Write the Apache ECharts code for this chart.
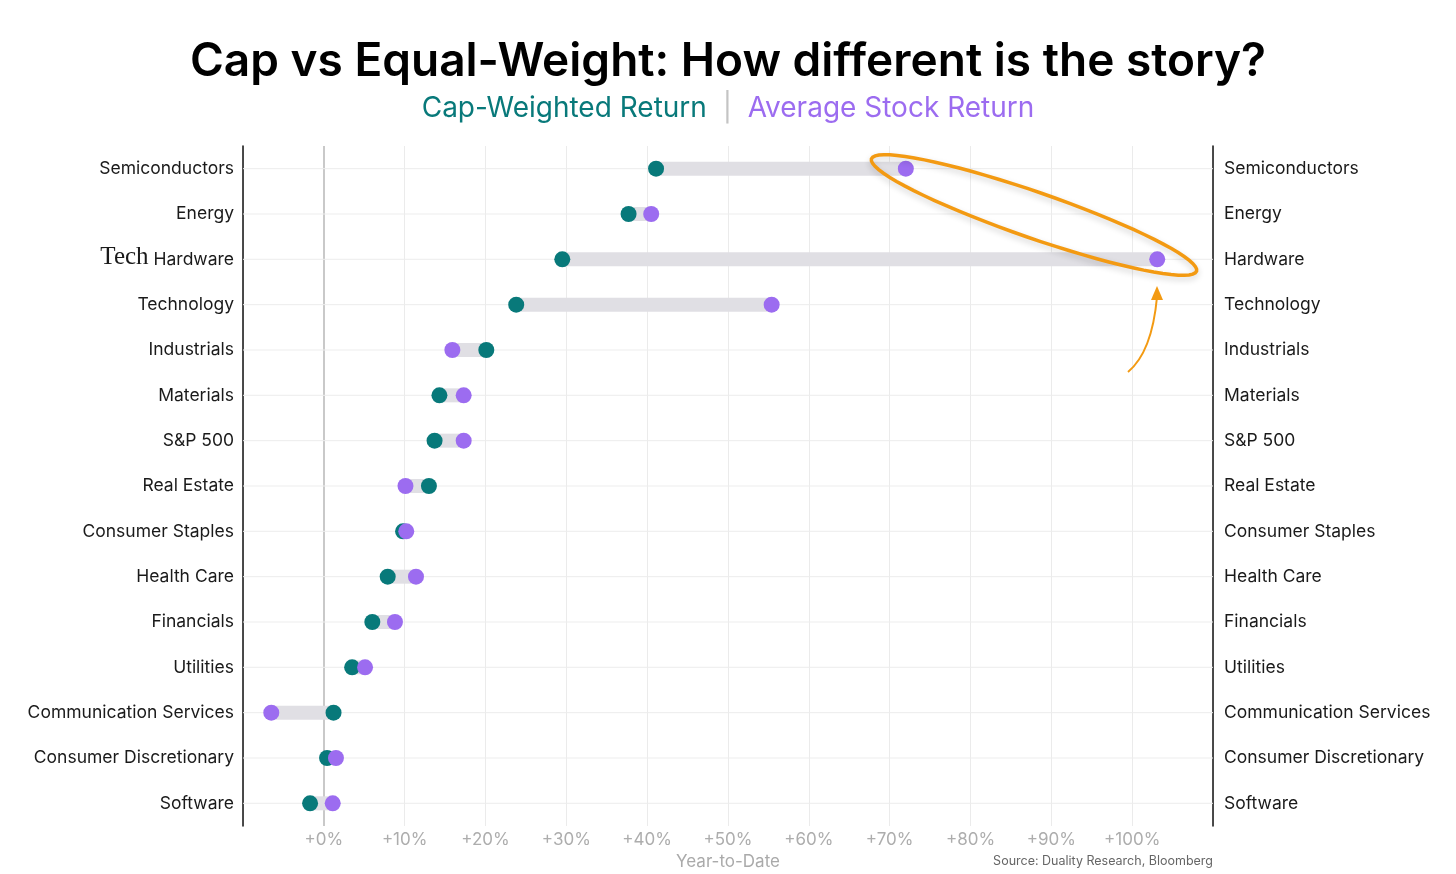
<!DOCTYPE html>
<html>
<head>
<meta charset="utf-8">
<script src="https://cdn.jsdelivr.net/npm/echarts@6/dist/echarts.min.js"></script>
<style>
  html, body { margin: 0; padding: 0; background: #fff; }
  #main { width: 1456px; height: 874px; }
</style>
</head>
<body>
<div id="main"></div>
<script>
// sectors, top to bottom
const categories = ['Semiconductors', 'Energy', 'Hardware', 'Technology', 'Industrials', 'Materials',
  'S&P 500', 'Real Estate', 'Consumer Staples', 'Health Care', 'Financials', 'Utilities',
  'Communication Services', 'Consumer Discretionary', 'Software']

// year-to-date returns, %
const capWeighted = [41.1, 37.7, 29.5, 23.8, 20.1, 14.3, 13.7, 13.0, 9.8, 7.9, 6.0, 3.5, 1.2, 0.4, -1.7]
const avgStock = [72.0, 40.5, 103.1, 55.4, 15.9, 17.3, 17.3, 10.1, 10.2, 11.4, 8.8, 5.1, -6.5, 1.5, 1.1]

const xTicks = [0, 10, 20, 30, 40, 50, 60, 70, 80, 90, 100]

const TEAL = '#08797a'
const PURPLE = '#9c6cf0'
const FONT = 'Inter'

var chart = echarts.init(document.getElementById('main'))

// gray bar + row gridline
let rangeData = categories.map((c, i) => [capWeighted[i], avgStock[i], c])

// ellipse outline for the annotation
let ellipsePts = []
for (let k = 0; k <= 72; k++) {
    let t = k / 72 * Math.PI * 2
    let a = 172, b = 23, rot = 0.333
    let x = a * Math.cos(t), y = b * Math.sin(t)
    ellipsePts.push([1034 + x * Math.cos(rot) - y * Math.sin(rot), 215 + x * Math.sin(rot) + y * Math.cos(rot)])
}

chart.setOption({
    animation: false,
    backgroundColor: '#fff',
    title: {
        text: 'Cap vs Equal-Weight: How different is the story?',
        subtext: '{a|Cap-Weighted Return}{s|  |  }{b|Average Stock Return}',
        left: 'center',
        top: 34,
        itemGap: 10,
        textStyle: { fontFamily: FONT, fontSize: 46, fontWeight: 600, color: '#000' },
        subtextStyle: {
            rich: {
                a: { fontFamily: FONT, fontSize: 28, color: TEAL },
                s: { fontFamily: FONT, fontSize: 28, color: '#c4c4c4' },
                b: { fontFamily: FONT, fontSize: 28, color: PURPLE }
            }
        }
    },
    grid: { left: 243, right: 243, top: 146, bottom: 48, outerBoundsMode: 'none' },
    xAxis: {
        type: 'value',
        min: -10,
        max: 110,
        interval: 10,
        name: 'Year-to-Date',
        nameLocation: 'middle',
        nameGap: 26,
        nameTextStyle: { fontFamily: FONT, fontSize: 17, color: '#aaa' },
        axisLine: { show: false },
        axisTick: { show: false },
        axisLabel: {
            margin: 5,
            fontFamily: FONT,
            fontSize: 17,
            color: '#adadad',
            formatter: v => xTicks.indexOf(v) >= 0 ? '+' + v + '%' : ''
        },
        splitLine: { lineStyle: { color: '#ebebeb', width: 1 } }
    },
    yAxis: [{
        type: 'category',
        data: categories,
        inverse: true,
        position: 'left',
        axisLine: { show: true, onZero: false, lineStyle: { color: '#111', width: 1.5 } },
        axisTick: { show: false },
        splitLine: { show: false },
        axisLabel: {
            margin: 9,
            fontFamily: FONT,
            fontSize: 17.5,
            color: '#1a1a1a',
            formatter: v => v == 'Hardware' ? '{h|Tech} Hardware' : v,
            rich: {
                h: { fontFamily: 'Liberation Serif', fontSize: 25, color: '#1a1a1a', padding: [0, 0, 3, 0] }
            }
        }
    }, {
        type: 'category',
        data: categories,
        inverse: true,
        position: 'right',
        axisLine: { show: true, onZero: false, lineStyle: { color: '#111', width: 1.5 } },
        axisTick: { show: false },
        splitLine: { show: false },
        axisLabel: { margin: 11, fontFamily: FONT, fontSize: 17.5, color: '#1a1a1a' }
    }],
    series: [{
        type: 'custom',
        silent: true,
        yAxisIndex: 0,
        encode: { x: [0, 1], y: 2 },
        data: rangeData,
        renderItem: function (params, api) {
            let a = api.coord([api.value(0), api.value(2)])
            let b = api.coord([api.value(1), api.value(2)])
            let cs = params.coordSys
            return {
                type: 'group',
                children: [{
                    type: 'line',
                    shape: { x1: cs.x, y1: a[1], x2: cs.x + cs.width, y2: a[1] },
                    style: { stroke: '#ededed', lineWidth: 1 }
                }, {
                    type: 'rect',
                    shape: { x: Math.min(a[0], b[0]), y: a[1] - 7, width: Math.abs(b[0] - a[0]), height: 14 },
                    style: { fill: '#e0dfe4' }
                }]
            }
        },
        z: 1
    }, {
        name: 'Cap-Weighted Return',
        type: 'scatter',
        yAxisIndex: 0,
        symbolSize: 16,
        itemStyle: { color: TEAL, opacity: 1 },
        data: categories.map((c, i) => [capWeighted[i], c]),
        markLine: {
            silent: true,
            symbol: 'none',
            label: { show: false },
            lineStyle: { color: '#c9c9c9', width: 2, type: 'solid' },
            data: [{ xAxis: 0 }],
            z: 0
        },
        z: 3
    }, {
        name: 'Average Stock Return',
        type: 'scatter',
        yAxisIndex: 0,
        symbolSize: 16,
        itemStyle: { color: PURPLE, opacity: 1 },
        data: categories.map((c, i) => [avgStock[i], c]),
        z: 4
    }],
    graphic: [{
        type: 'polygon',
        silent: true,
        z: 10,
        shape: { points: ellipsePts },
        style: {
            fill: null, stroke: '#f39a12', lineWidth: 3.5,
            shadowBlur: 6, shadowColor: 'rgba(0,0,0,0.18)', shadowOffsetY: 3
        }
    }, {
        type: 'bezierCurve',
        silent: true,
        z: 10,
        shape: { x1: 1128, y1: 372, cpx1: 1152, cpy1: 352, x2: 1157, y2: 297 },
        style: { stroke: '#f39a12', lineWidth: 2, fill: null }
    }, {
        type: 'polygon',
        silent: true,
        z: 10,
        shape: { points: [[1151, 300], [1157, 286], [1163, 300]] },
        style: { fill: '#f39a12' }
    }, {
        type: 'text',
        right: 243,
        top: 855,
        style: { text: 'Source: Duality Research, Bloomberg', fontFamily: FONT, fontSize: 12.5, fill: '#666' }
    }]
})
</script>
</body>
</html>
